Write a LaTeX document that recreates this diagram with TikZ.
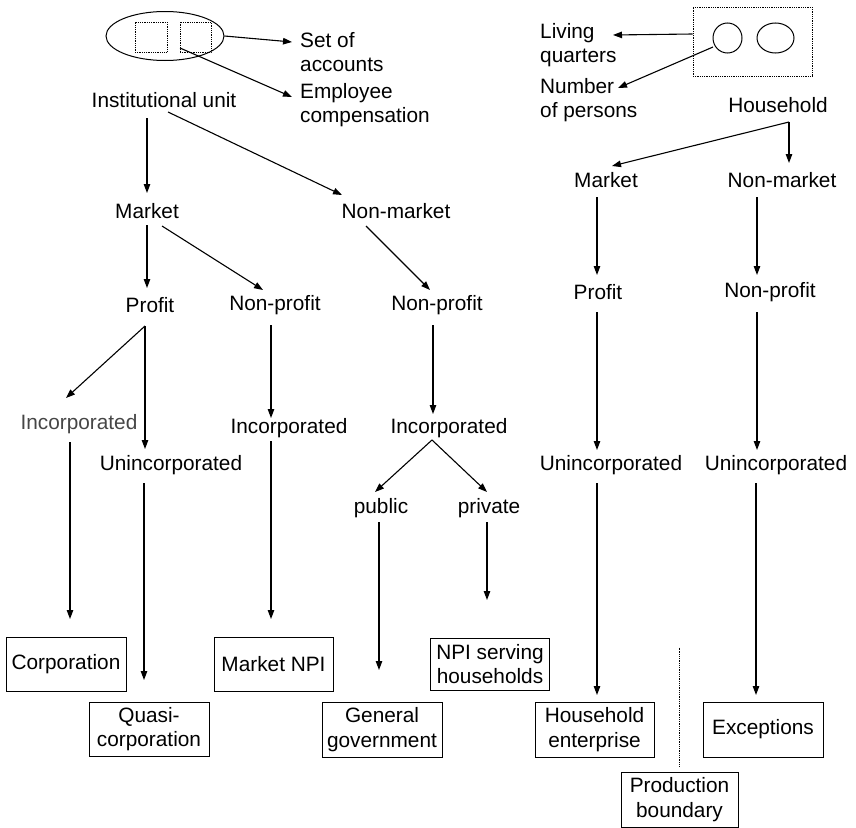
\documentclass[tikz,border=0pt]{standalone}
\usepackage{fontspec}
\setmainfont{Liberation Sans}
\usetikzlibrary{arrows.meta,shapes.geometric}
\definecolor{softgray}{RGB}{70,70,70}
\tikzset{
  lbl/.style={font=\fontsize{20.8}{24.5}\selectfont, inner sep=0pt, align=center},
  lbll/.style={font=\fontsize{20.8}{24.5}\selectfont, inner sep=0pt, align=left, anchor=west},
  leaf/.style={draw, line width=1pt, font=\fontsize{20.8}{24.5}\selectfont, inner sep=0pt,
               align=center, minimum width=119pt, minimum height=54pt},
  arr/.style={line width=1.1pt, -{Triangle[length=9pt,width=6.5pt]}},
  dotbox/.style={draw, densely dotted, line width=0.8pt},
}
\begin{document}
\begin{tikzpicture}[x=1pt,y=-1pt]
\useasboundingbox (0,0) rectangle (856,827);

% ---------- institutional unit (left tree) ----------
\node[draw, ellipse, line width=1pt, minimum width=118pt, minimum height=49pt, inner sep=0pt] (ell) at (165,36) {};
\node[dotbox, minimum width=32pt, minimum height=30pt, inner sep=0pt] (sq1) at (151,37) {};
\node[dotbox, minimum width=31pt, minimum height=30pt, inner sep=0pt] (sq2) at (195.5,37) {};
\node[lbll] (soa) at (300,52) {Set of\\accounts};
\node[lbll] (emp) at (300,105) {Employee\\compensation};

\node[lbl] (iu) at (164,100) {Institutional unit};
\node[lbl] (mkL) at (147,211) {Market};
\node[lbl] (nm) at (396,211) {Non-market};
\node[lbl] (profL) at (150,305) {Profit};
\node[lbl] (npL) at (275,305) {Non-profit};
\node[lbl] (npM) at (437,305) {Non-profit};
\node[lbl, text=softgray] (incL) at (79,424) {Incorporated};
\node[lbl] (unincL) at (171,465) {Unincorporated};
\node[lbl] (incML) at (289,428) {Incorporated};
\node[lbl] (incM) at (449,428) {Incorporated};
\node[lbl] (pub) at (381,508) {public};
\node[lbl] (priv) at (489,508) {private};

\node[leaf, minimum width=120pt] (corp) at (66,664) {Corporation};
\node[leaf, minimum width=120pt] (quasi) at (149,729) {Quasi-\\corporation};
\node[leaf] (mnpi) at (273.5,664) {Market NPI};
\node[leaf, minimum width=120pt, minimum height=55pt] (gg) at (382,729.5) {General\\government};
\node[leaf, minimum height=52pt] (npis) at (490,664) {NPI serving\\households};

% ---------- household (right tree) ----------
\node[dotbox, minimum width=119pt, minimum height=69pt, inner sep=0pt] (hrect) at (752.5,41.5) {};
\node[draw, ellipse, line width=1pt, minimum width=29pt, minimum height=30pt, inner sep=0pt] (c1) at (727.5,38) {};
\node[draw, ellipse, line width=1pt, minimum width=37pt, minimum height=30pt, inner sep=0pt] (c2) at (775.5,38) {};
\node[lbll] (lq) at (540,45) {Living\\quarters};
\node[lbll] (nop) at (540,100) {Number\\of persons};

\node[lbl] (hh) at (778,105) {Household};
\node[lbl] (mkR) at (606,180) {Market};
\node[lbl] (nmR) at (782,180) {Non-market};
\node[lbl] (profR) at (598,292) {Profit};
\node[lbl] (npR) at (770,292) {Non-profit};
\node[lbl] (unincR) at (611,465) {Unincorporated};
\node[lbl] (unincRR) at (776,465) {Unincorporated};

\node[leaf, minimum height=55pt] (he) at (594.5,729.5) {Household\\enterprise};
\node[leaf, minimum width=120pt, minimum height=55pt] (exc) at (763,729.5) {Exceptions};
\node[leaf, minimum width=117pt, minimum height=55pt] (pb) at (679.5,799.5) {Production\\boundary};

% ---------- connectors, left tree ----------
\draw[arr] (ell.east) -- ([shift={(-8,-10)}]soa.west);
\draw[arr] ([shift={(-15.5,11)}]sq2.center) -- ([shift={(-8,-8)}]emp.west);

\draw[arr] ([shift={(-17,18)}]iu.center) -- ([shift={(0,-18)}]mkL.center);
\draw[arr] ([shift={(4,12)}]iu.center) -- ([shift={(-54,-16)}]nm.center);
\draw[arr] ([shift={(0,14)}]mkL.center) -- ([shift={(-3,-17)}]profL.center);
\draw[arr] ([shift={(15,15)}]mkL.center) -- ([shift={(-12,-15)}]npL.center);
\draw[arr] ([shift={(-30,15)}]nm.center) -- ([shift={(-7,-15)}]npM.center);
\draw[arr] ([shift={(-5,21)}]profL.center) -- ([shift={(-13,-26)}]incL.center);
\draw[arr] ([shift={(-5,21)}]profL.center) -- ([shift={(-26,-16)}]unincL.center);
\draw[arr] ([shift={(-4,20)}]npL.center) -- ([shift={(-18,-10)}]incML.center);
\draw[arr] ([shift={(-4,20)}]npM.center) -- ([shift={(-16,-14)}]incM.center);
\draw[arr] ([shift={(-17,12)}]incM.center) -- ([shift={(-6,-16)}]pub.center);
\draw[arr] ([shift={(-17,12)}]incM.center) -- ([shift={(-2,-16)}]priv.center);

\draw[arr] ([shift={(-9,18)}]incL.center) -- ([shift={(4,-45)}]corp.center);
\draw[arr] ([shift={(-27,18)}]unincL.center) -- ([shift={(-5,-49)}]quasi.center);
\draw[arr] ([shift={(-18,13)}]incML.center) -- ([shift={(-2.5,-45)}]mnpi.center);
\draw[arr] ([shift={(-2,14)}]pub.center) -- ([shift={(-3,-59.5)}]gg.center);
\draw[arr] ([shift={(-2,14)}]priv.center) -- ([shift={(-3,-64)}]npis.center);

% ---------- connectors, right tree ----------
\draw[arr] ([shift={(0,-7.5)}]hrect.west) -- ([shift={(73,-10)}]lq.west);
\draw[arr] ([shift={(-14.5,9)}]c1.center) -- ([shift={(78,-12)}]nop.west);

\draw[arr] ([shift={(11,17)}]hh.center) -- ([shift={(6,-14)}]mkR.center);
\draw[arr] ([shift={(11,17)}]hh.center) -- ([shift={(7,-17)}]nmR.center);
\draw[arr] ([shift={(-9,17)}]mkR.center) -- ([shift={(-1,-17)}]profR.center);
\draw[arr] ([shift={(-25,17)}]nmR.center) -- ([shift={(-13,-17)}]npR.center);
\draw[arr] ([shift={(-1,20)}]profR.center) -- ([shift={(-14,-15)}]unincR.center);
\draw[arr] ([shift={(-13,20)}]npR.center) -- ([shift={(-19,-15)}]unincRR.center);
\draw[arr] ([shift={(-14,18)}]unincR.center) -- ([shift={(2.5,-34.5)}]he.center);
\draw[arr] ([shift={(-20,18)}]unincRR.center) -- ([shift={(-7,-34.5)}]exc.center);

% production boundary marker
\draw[densely dotted, line width=0.8pt] ([shift={(0,-5)}]pb.north) -- ([shift={(0,-124)}]pb.north);
\end{tikzpicture}
\end{document}
